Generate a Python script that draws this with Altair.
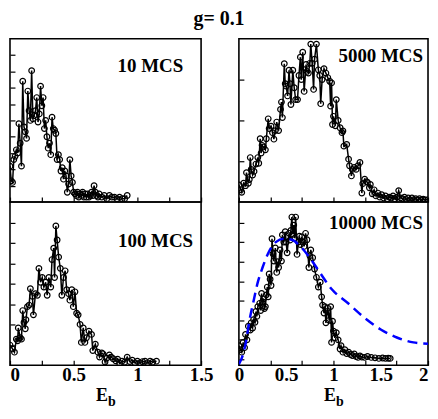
import altair as alt
import pandas as pd

FONT = "Liberation Serif"

# ---- 10 MCS (top-left) ----
tl_x = [0.00, 0.01, 0.02, 0.03, 0.04, 0.05, 0.06, 0.07, 0.08, 0.09, 0.10, 0.11, 0.12, 0.13, 0.14,
        0.15, 0.16, 0.17, 0.18, 0.19, 0.20, 0.21, 0.22, 0.23, 0.24, 0.25, 0.26, 0.27, 0.28, 0.29,
        0.30, 0.31, 0.32, 0.33, 0.34, 0.35, 0.36, 0.37, 0.38, 0.39, 0.40, 0.41, 0.42, 0.43, 0.44,
        0.45, 0.46, 0.47, 0.48, 0.49, 0.50, 0.51, 0.52, 0.53, 0.54, 0.55, 0.56, 0.57, 0.58, 0.59,
        0.60, 0.61, 0.62, 0.63, 0.64, 0.65, 0.66, 0.67, 0.68, 0.69, 0.70, 0.72, 0.74, 0.76, 0.78,
        0.80, 0.82, 0.84, 0.86, 0.88, 0.90, 0.92]
tl_y = [2.2, 1.3, 1.2, 2.6, 2.8, 3.2, 3.0, 4.8, 3.6, 2.2, 7.4, 4.6, 4.3, 3.9, 6.8,
        5.6, 5.0, 8.05, 5.1, 5.3, 5.6, 6.4, 4.9, 5.4, 7.1, 5.9, 6.4, 4.5, 5.0, 4.0,
        3.3, 3.6, 2.9, 5.2, 4.5, 4.4, 4.2, 2.6, 2.9, 2.6, 1.9, 2.1, 1.4, 1.9, 1.6,
        0.6, 1.1, 2.6, 1.6, 1.2, 0.6, 0.5, 0.4, 0.6, 0.3, 0.5, 0.4, 0.6, 0.3, 0.5,
        0.3, 0.5, 0.3, 0.4, 0.6, 0.4, 1.0, 0.6, 0.4, 0.3, 0.5, 0.3, 0.4, 0.2, 0.4,
        0.3, 0.3, 0.2, 0.3, 0.2, 0.2, 0.4]

# ---- 5000 MCS (top-right) ----
tr_x = [0.00, 0.02, 0.03, 0.05, 0.07, 0.08, 0.10, 0.11, 0.12, 0.13, 0.145, 0.16, 0.18, 0.20, 0.21,
        0.225, 0.235, 0.245, 0.26, 0.28, 0.29, 0.31, 0.32, 0.34, 0.355, 0.37, 0.385, 0.40, 0.42, 0.44,
        0.45, 0.46, 0.48, 0.49, 0.50, 0.515, 0.53, 0.54, 0.55, 0.57, 0.585, 0.60, 0.62, 0.635, 0.65,
        0.66, 0.675, 0.69, 0.71, 0.72, 0.735, 0.75, 0.76, 0.775, 0.79, 0.80, 0.82, 0.84, 0.855, 0.865,
        0.88, 0.90, 0.92, 0.94, 0.96, 0.97, 0.98, 0.99, 1.00, 1.02, 1.03, 1.05, 1.07, 1.09, 1.10,
        1.11, 1.14, 1.16, 1.17, 1.19, 1.20, 1.22, 1.24, 1.26, 1.28, 1.30, 1.31, 1.33, 1.35, 1.36,
        1.38, 1.39, 1.41, 1.43, 1.45, 1.47, 1.49, 1.51, 1.53, 1.55, 1.57, 1.59, 1.61, 1.63, 1.65,
        1.67, 1.69, 1.71, 1.73, 1.75, 1.77, 1.79, 1.81, 1.83, 1.85, 1.87, 1.89, 1.91, 1.93, 1.95,
        1.97, 2.00]
tr_y = [0.42, 0.30, 0.24, 0.46, 0.40, 0.72, 0.46, 0.55, 1.09, 0.80, 0.66, 0.75, 0.93, 1.09, 0.95,
        1.55, 1.20, 1.39, 1.35, 1.28, 1.55, 2.04, 1.80, 1.86, 1.70, 1.54, 1.75, 1.96, 1.75, 2.27,
        2.45, 2.07, 3.39, 2.90, 2.84, 2.60, 3.23, 2.90, 2.39, 3.23, 2.80, 2.51, 2.51, 3.10, 3.55,
        3.00, 3.67, 2.71, 3.37, 3.20, 3.16, 3.40, 3.87, 3.40, 2.76, 3.50, 3.87, 3.24, 3.10, 2.41,
        3.00, 3.27, 3.16, 3.05, 2.96, 2.35, 2.92, 1.90, 2.10, 1.87, 2.51, 2.00, 1.82, 1.70, 1.74,
        1.37, 1.41, 1.05, 0.89, 0.64, 0.80, 0.85, 0.80, 0.89, 0.97, 0.22, 0.45, 0.56, 0.50, 0.48,
        0.35, 0.43, 0.20, 0.30, 0.15, 0.22, 0.12, 0.18, 0.10, 0.15, 0.08, 0.12, 0.10, 0.15, 0.08,
        0.12, 0.28, 0.10, 0.08, 0.12, 0.06, 0.10, 0.05, 0.10, 0.06, 0.08, 0.05, 0.08, 0.05, 0.07,
        0.05, 0.06]

# ---- 100 MCS (bottom-left) ----
bl_x = [0.00, 0.02, 0.035, 0.05, 0.06, 0.065, 0.08, 0.09, 0.10, 0.11, 0.12, 0.125, 0.137, 0.15, 0.16,
        0.176, 0.184, 0.20, 0.215, 0.227, 0.24, 0.253, 0.266, 0.28, 0.292, 0.305, 0.32, 0.33, 0.343, 0.35,
        0.36, 0.37, 0.382, 0.395, 0.407, 0.42, 0.433, 0.445, 0.46, 0.47, 0.485, 0.497, 0.51, 0.523, 0.535,
        0.55, 0.56, 0.575, 0.588, 0.60, 0.62, 0.64, 0.65, 0.67, 0.69, 0.703, 0.72, 0.73, 0.746, 0.76,
        0.78, 0.795, 0.81, 0.83, 0.845, 0.86, 0.88, 0.90, 0.92, 0.94, 0.96, 0.98, 1.00, 1.02, 1.04,
        1.06, 1.08, 1.10, 1.12, 1.15]
bl_y = [0.99, 0.80, 0.64, 1.28, 1.20, 1.83, 1.35, 1.28, 2.68, 2.10, 1.79, 2.23, 2.87, 2.95, 3.75,
        3.38, 2.47, 3.51, 3.43, 4.75, 4.07, 4.30, 3.83, 4.07, 3.43, 4.30, 3.83, 5.18, 5.74, 4.30,
        6.83, 6.14, 5.30, 4.75, 3.43, 4.30, 4.63, 3.70, 3.51, 3.19, 3.70, 2.87, 3.60, 2.55, 2.47,
        2.00, 1.12, 1.83, 1.12, 1.35, 1.67, 1.51, 0.72, 1.03, 0.64, 0.40, 0.60, 0.56, 0.16, 0.35,
        0.51, 0.40, 0.32, 0.22, 0.30, 0.10, 0.20, 0.15, 0.40, 0.18, 0.25, 0.12, 0.20, 0.12, 0.18,
        0.20, 0.12, 0.20, 0.15, 0.20]

# ---- 10000 MCS (bottom-right) ----
br_x = [0.00, 0.015, 0.03, 0.045, 0.06, 0.07, 0.085, 0.10, 0.12, 0.13, 0.145, 0.155, 0.17, 0.18, 0.19,
        0.20, 0.22, 0.23, 0.24, 0.25, 0.26, 0.27, 0.28, 0.29, 0.30, 0.31, 0.32, 0.33, 0.34, 0.35,
        0.36, 0.37, 0.385, 0.40, 0.41, 0.42, 0.435, 0.45, 0.46, 0.475, 0.49, 0.50, 0.51, 0.53, 0.54,
        0.55, 0.56, 0.57, 0.58, 0.59, 0.60, 0.615, 0.63, 0.64, 0.65, 0.665, 0.68, 0.69, 0.705, 0.72,
        0.74, 0.75, 0.76, 0.78, 0.80, 0.82, 0.84, 0.86, 0.875, 0.885, 0.90, 0.91, 0.92, 0.94, 0.955,
        0.97, 0.98, 0.99, 1.00, 1.015, 1.03, 1.05, 1.07, 1.08, 1.10, 1.12, 1.14, 1.16, 1.18, 1.20,
        1.22, 1.24, 1.26, 1.28, 1.30, 1.33, 1.36, 1.40, 1.44, 1.48, 1.52, 1.55, 1.58, 1.60]
br_y = [0.70, 0.50, 0.37, 0.87, 0.60, 1.28, 1.00, 1.70, 1.50, 1.87, 1.60, 2.03, 1.90, 2.45, 2.20,
        2.70, 2.87, 2.50, 3.37, 2.95, 3.10, 2.60, 2.70, 3.30, 3.70, 3.20, 4.37, 4.10, 3.78, 6.17,
        5.40, 5.03, 5.70, 4.45, 5.00, 4.70, 5.60, 5.03, 6.37, 6.00, 6.53, 6.00, 5.45, 6.45, 6.10,
        6.60, 7.28, 6.40, 6.87, 6.20, 7.28, 5.37, 6.00, 6.30, 5.87, 6.27, 6.00, 5.78, 6.45, 6.12,
        4.70, 5.30, 5.60, 5.20, 4.62, 4.20, 3.70, 3.95, 3.20, 2.78, 2.37, 2.70, 1.87, 2.62, 2.00,
        2.70, 0.87, 1.95, 1.45, 1.10, 1.37, 1.00, 0.53, 0.70, 0.37, 0.50, 0.30, 0.37, 0.25, 0.20,
        0.28, 0.15, 0.10, 0.18, 0.12, 0.10, 0.15, 0.10, 0.08, 0.05, 0.07, 0.05, 0.06, 0.05]

# ---- dashed reference curve (10000 MCS panel) ----
fit_x = [0.00, 0.045, 0.08, 0.11, 0.15, 0.20, 0.25, 0.32, 0.39, 0.475, 0.56, 0.65, 0.75, 0.855,
         0.98, 1.155, 1.33, 1.50, 1.67, 1.845, 2.00]
fit_y = [-0.25, 0.28, 1.03, 1.95, 2.87, 3.95, 4.70, 5.53, 6.00, 6.17, 6.12, 5.78, 5.20, 4.45,
         3.60, 2.87, 2.12, 1.53, 1.12, 0.87, 0.80]

left_xticks = [0, 0.25, 0.5, 0.75, 1.0, 1.25, 1.5]
right_xticks = [0, 1 / 3, 0.5, 2 / 3, 1.0, 4 / 3, 1.5, 5 / 3, 2.0]

LABEL_EXPR = "abs(datum.value*2 - round(datum.value*2)) < 0.001 ? format(datum.value, '~g') : ''"


def panel(x, y, xdom, ydom, xticks, yticks, label, lx, ly, W, H, bottom, thirds=False,
          align_test=None, align_val=None, fx=None, fy=None):
    df = pd.DataFrame({"x": x, "y": y})
    xscale = alt.Scale(domain=xdom, nice=False, zero=False)
    yscale = alt.Scale(domain=ydom, nice=False, zero=False)
    xkw = dict(values=xticks, tickSize=5, offset=-5, domain=False, grid=False, title=None,
               tickColor="black", tickWidth=1.2)
    if bottom:
        xkw.update(labelExpr=LABEL_EXPR, labelFont=FONT, labelFontSize=19, labelFontWeight="bold",
                   labelColor="black", labelPadding=0, labelFlush=False, labelOverlap=False,
                   labelAlign={"condition": {"test": align_test, "value": align_val},
                               "value": "center"})
    else:
        xkw.update(labels=False)
    if thirds:
        xkw["tickOpacity"] = {"condition": {"test": "abs(datum.value*3 - round(datum.value*3)) > 0.001",
                                            "value": 0}, "value": 1}
    xenc = alt.X("x:Q", scale=xscale, axis=alt.Axis(**xkw))
    yenc = alt.Y("y:Q", scale=yscale,
                 axis=alt.Axis(values=yticks, tickSize=5, offset=-5, domain=False, grid=False,
                               labels=False, title=None, tickColor="black", tickWidth=1.2))
    base = alt.Chart(df).encode(x=xenc, y=yenc)
    layers = [
        base.mark_line(color="black", strokeWidth=1.5, clip=True),
        base.mark_point(shape="circle", filled=False, size=32, color="black", strokeWidth=1.2,
                        opacity=1, clip=True),
    ]
    if fx is not None:
        fdf = pd.DataFrame({"x": fx, "y": fy})
        layers.append(alt.Chart(fdf).mark_line(color="#0000ff", strokeWidth=2.5,
                                               strokeDash=[10, 6], interpolate="monotone",
                                               clip=True)
                      .encode(x=xenc, y=yenc))
    tdf = pd.DataFrame({"t": [label]})
    layers.append(alt.Chart(tdf).mark_text(align="right", baseline="middle", font=FONT,
                                           fontSize=19, fontWeight="bold", color="black")
                  .encode(x=alt.value(lx), y=alt.value(ly), text="t:N"))
    if bottom:
        edf = pd.DataFrame({"t": ["E"]})
        bdf = pd.DataFrame({"t": ["b"]})
        layers.append(alt.Chart(edf).mark_text(align="right", baseline="alphabetic", font=FONT,
                                               fontSize=18, fontWeight="bold", color="black")
                      .encode(x=alt.value(W / 2 + 2.5), y=alt.value(H + 36), text="t:N"))
        layers.append(alt.Chart(bdf).mark_text(align="left", baseline="alphabetic", font=FONT,
                                               fontSize=14, fontWeight="bold", color="black")
                      .encode(x=alt.value(W / 2 + 2.5), y=alt.value(H + 41), text="t:N"))
    return alt.layer(*layers).properties(width=W, height=H)


LW, RW = 192, 190
TH, BH = 164, 164
tl = panel(tl_x, tl_y, [0, 1.5], [0, 10], left_xticks, list(range(1, 10)), "10 MCS",
           LW - 18, 27, LW, TH, False)
tr = panel(tr_x, tr_y, [0, 2], [0, 4], right_xticks, [1, 2, 3], "5000 MCS",
           RW - 5, 17, RW, TH, False, thirds=True)
bl = panel(bl_x, bl_y, [0, 1.5], [0, 8], left_xticks, list(range(1, 8)), "100 MCS",
           LW - 8, 39, LW, BH, True, align_test="datum.value < 0.01", align_val="left")
br = panel(br_x, br_y, [0, 2], [-0.3, 8.05], right_xticks, list(range(0, 8)), "10000 MCS",
           RW - 5, 21, RW, BH, True, thirds=True,
           align_test="datum.value > 1.99", align_val="right", fx=fit_x, fy=fit_y)

chart = alt.concat(
    tl, tr, bl, br,
    columns=2,
    spacing={"row": 0, "column": 38},
    bounds="flush",
).properties(
    padding=0,
    title=alt.TitleParams("g= 0.1", font=FONT, fontSize=20, fontWeight="bold", anchor="middle",
                          color="black", offset=9),
).configure_view(stroke="black", strokeWidth=1.6)

chart.save("out.html", embed_options={"renderer": "svg", "actions": False})
